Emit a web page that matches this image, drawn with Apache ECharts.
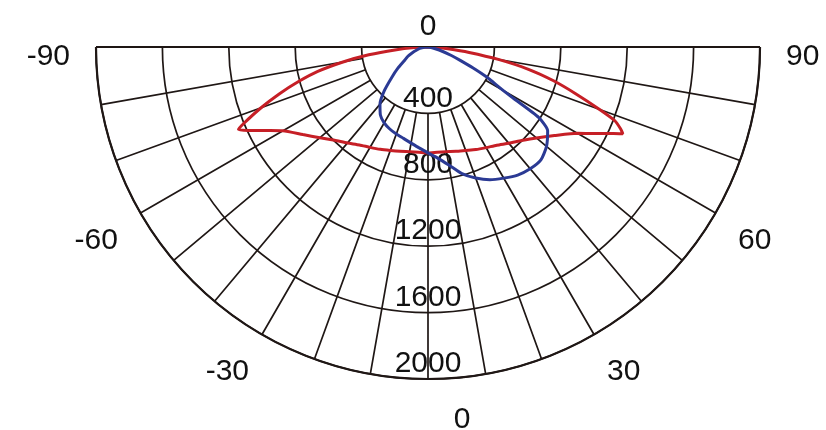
<!DOCTYPE html>
<html>
<head>
<meta charset="utf-8">
<script src="https://cdn.jsdelivr.net/npm/echarts@6/dist/echarts.min.js"></script>
<style>
  html, body { margin: 0; padding: 0; background: #ffffff; }
  #chart { width: 826px; height: 430px; }
</style>
</head>
<body>
<div id="chart"></div>
<script>
// Luminous intensity rings (cd) and the labelled gamma angles
const radiusTicks = [0, 400, 800, 1200, 1600, 2000];
const angleTicks = [-90, -60, -30, 0, 30, 60, 90];

// C0-C180 plane (wide distribution)
const redAngles = [-90, -87.5, -85, -82.5, -80, -77.5, -75, -72.5, -70, -67.5, -66.5, -65, -62.5, -60, -55, -50, -45, -40, -35, -30, -25, -20, -15, -10, -5, 0,
                   5, 10, 15, 20, 25, 30, 35, 40, 45, 50, 55, 60, 62.5, 65, 66, 67, 68.5, 70, 72.5, 75, 77.5, 80, 82.5, 85, 87.5, 90];
const redValues = [0, 80, 200, 360, 520, 680, 810, 940, 1070, 1200, 1245, 1190, 1090, 1010, 920, 850, 795, 755, 720, 698, 680, 663, 650, 640, 636, 638,
                   636, 640, 650, 663, 682, 700, 722, 757, 797, 852, 930, 1040, 1128, 1233, 1285, 1260, 1208, 1100, 930, 780, 620, 430, 250, 120, 45, 0];

// C90-C270 plane (narrow, tilted beam)
const blueAngles = [-90, -85, -80, -75, -70, -65, -60, -55, -50, -45, -40, -35, -30, -25, -20, -15, -10, -5, 0,
                    5, 10, 15, 20, 25, 30, 35, 40, 45, 50, 55, 57.5, 59, 60, 62, 63, 65, 67.5, 70, 75, 80, 90];
const blueValues = [0, 20, 50, 70, 100, 135, 165, 220, 285, 372, 450, 500, 528, 545, 558, 570, 588, 610, 638,
                    672, 722, 790, 840, 882, 912, 942, 958, 962, 932, 880, 790, 600, 520, 430, 392, 300, 210, 150, 70, 25, 0];

const CENTER = [428, 47];
const R = 332;
const INK = '#1f1715';
const FONT = '"Liberation Sans", Arial, Helvetica, sans-serif';
const LABEL_SIZE = 30;

function pairs(angles, values) {
  return angles.map((a, i) => [values[i], a]);
}

const labelText = { fontFamily: FONT, fontSize: LABEL_SIZE, color: '#111111' };

const chart = echarts.init(document.getElementById('chart'));
chart.setOption({
  backgroundColor: '#ffffff',
  animation: false,
  polar: [
    { center: CENTER, radius: [0, R] },        // rings, outline and curves
    { center: CENTER, radius: [R * 0.2, R] },  // spokes beyond the 400 cd ring
    { center: CENTER, radius: [0, R] }         // axis labels
  ],
  angleAxis: [
    {
      polarIndex: 0, type: 'value', min: -90, max: 90, interval: 180,
      startAngle: 180, endAngle: 360, clockwise: false,
      axisLine: { show: true, lineStyle: { color: INK, width: 2.2 } },
      axisTick: { show: false }, axisLabel: { show: false },
      splitLine: { show: true, lineStyle: { color: INK, width: 2.2 } }
    },
    {
      polarIndex: 1, type: 'value', min: -90, max: 90, interval: 10,
      startAngle: 180, endAngle: 360, clockwise: false,
      axisLine: { show: false }, axisTick: { show: false }, axisLabel: { show: false },
      splitLine: { show: true, lineStyle: { color: INK, width: 1.7 } }
    },
    {
      polarIndex: 2, type: 'value', min: 0, max: 360, interval: 30,
      startAngle: 270, clockwise: false,
      axisLine: { show: false }, axisTick: { show: false }, splitLine: { show: false },
      axisLabel: {
        show: true, margin: 26, ...labelText,
        formatter: function (v) {
          let a = v > 180 ? v - 360 : v;
          if (v === 360 || angleTicks.indexOf(a) < 0) return '';
          if (a === 0) return '{bottom|0}';
          if (Math.abs(a) === 90) return '{side|' + a + '}';
          return String(a);
        },
        rich: {
          bottom: { ...labelText, padding: [0, 0, 0, 68] },
          side: { ...labelText, padding: [20, 0, 0, 0] }
        }
      }
    }
  ],
  radiusAxis: [
    {
      polarIndex: 0, type: 'value', min: 0, max: 2000, interval: 400,
      axisLine: { show: false }, axisTick: { show: false }, axisLabel: { show: false },
      splitLine: { show: true, lineStyle: { color: INK, width: 1.7 } }
    },
    { polarIndex: 1, type: 'value', min: 400, max: 2000, show: false },
    {
      polarIndex: 2, type: 'value', min: 0, max: 2000, interval: 400,
      axisLine: { show: false }, axisTick: { show: false }, splitLine: { show: false },
      axisLabel: {
        show: true, margin: 0, align: 'center', verticalAlign: 'bottom', ...labelText,
        formatter: function (v) {
          if (radiusTicks.indexOf(v) < 0) return '';
          return v === 0 ? '{top|0}' : String(v);
        },
        rich: { top: { ...labelText, padding: [0, 0, 5, 0] } }
      }
    }
  ],
  series: [
    {
      type: 'line', coordinateSystem: 'polar', polarIndex: 0,
      data: pairs(redAngles, redValues), smooth: 0.2, showSymbol: false,
      lineStyle: { color: '#c61f26', width: 3 }, z: 5
    },
    {
      type: 'line', coordinateSystem: 'polar', polarIndex: 0,
      data: pairs(blueAngles, blueValues), smooth: 0.2, showSymbol: false,
      lineStyle: { color: '#2b3a94', width: 3 }, z: 6
    }
  ]
});
</script>
</body>
</html>
